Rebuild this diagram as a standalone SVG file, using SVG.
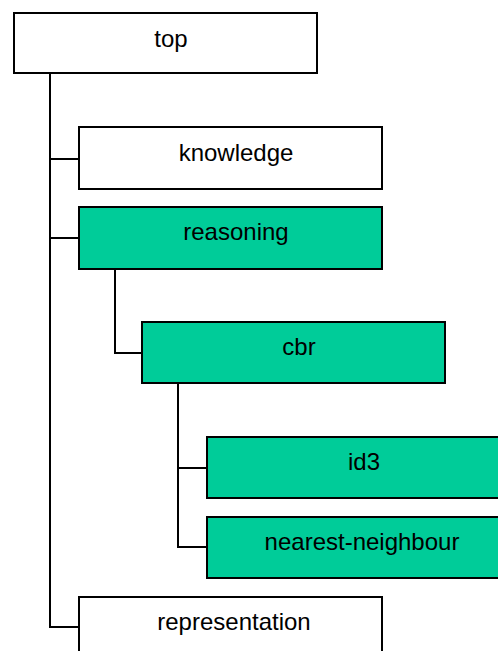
<svg xmlns="http://www.w3.org/2000/svg" width="498" height="651" viewBox="0 0 498 651">
  <style>
    .box { stroke: #000; stroke-width: 2; }
    .plain { fill: #fff; }
    .hl { fill: #00CC99; }
    .lbl { font-family: "Liberation Sans", Arial, sans-serif; font-size: 24px; fill: #000; text-anchor: middle; }
    .wire { fill: none; stroke: #000; stroke-width: 2; }
  </style>
  <rect width="498" height="651" fill="#fff"/>

  <!-- tree connectors -->
  <g id="connectors" class="wire">
    <path d="M50,73 V627 H79"/>
    <path d="M50,159 H79"/>
    <path d="M50,238 H79"/>
    <path d="M115,269 V353 H142"/>
    <path d="M178,383 V547 H207"/>
    <path d="M178,468 H207"/>
  </g>

  <g id="top">
    <rect class="box plain" x="14" y="13" width="303" height="60"/>
    <text class="lbl" x="171" y="47">top</text>
  </g>
  <g id="knowledge">
    <rect class="box plain" x="79" y="127" width="303" height="62"/>
    <text class="lbl" x="236" y="161">knowledge</text>
  </g>
  <g id="reasoning">
    <rect class="box hl" x="79" y="207" width="303" height="62"/>
    <text class="lbl" x="236" y="240">reasoning</text>
  </g>
  <g id="cbr">
    <rect class="box hl" x="142" y="322" width="303" height="61"/>
    <text class="lbl" x="299" y="355">cbr</text>
  </g>
  <g id="id3">
    <rect class="box hl" x="207" y="437" width="303" height="61"/>
    <text class="lbl" x="364" y="470">id3</text>
  </g>
  <g id="nearest-neighbour">
    <rect class="box hl" x="207" y="517" width="303" height="61"/>
    <text class="lbl" x="362" y="550">nearest-neighbour</text>
  </g>
  <g id="representation">
    <rect class="box plain" x="79" y="597" width="303" height="62"/>
    <text class="lbl" x="234" y="630">representation</text>
  </g>
</svg>
